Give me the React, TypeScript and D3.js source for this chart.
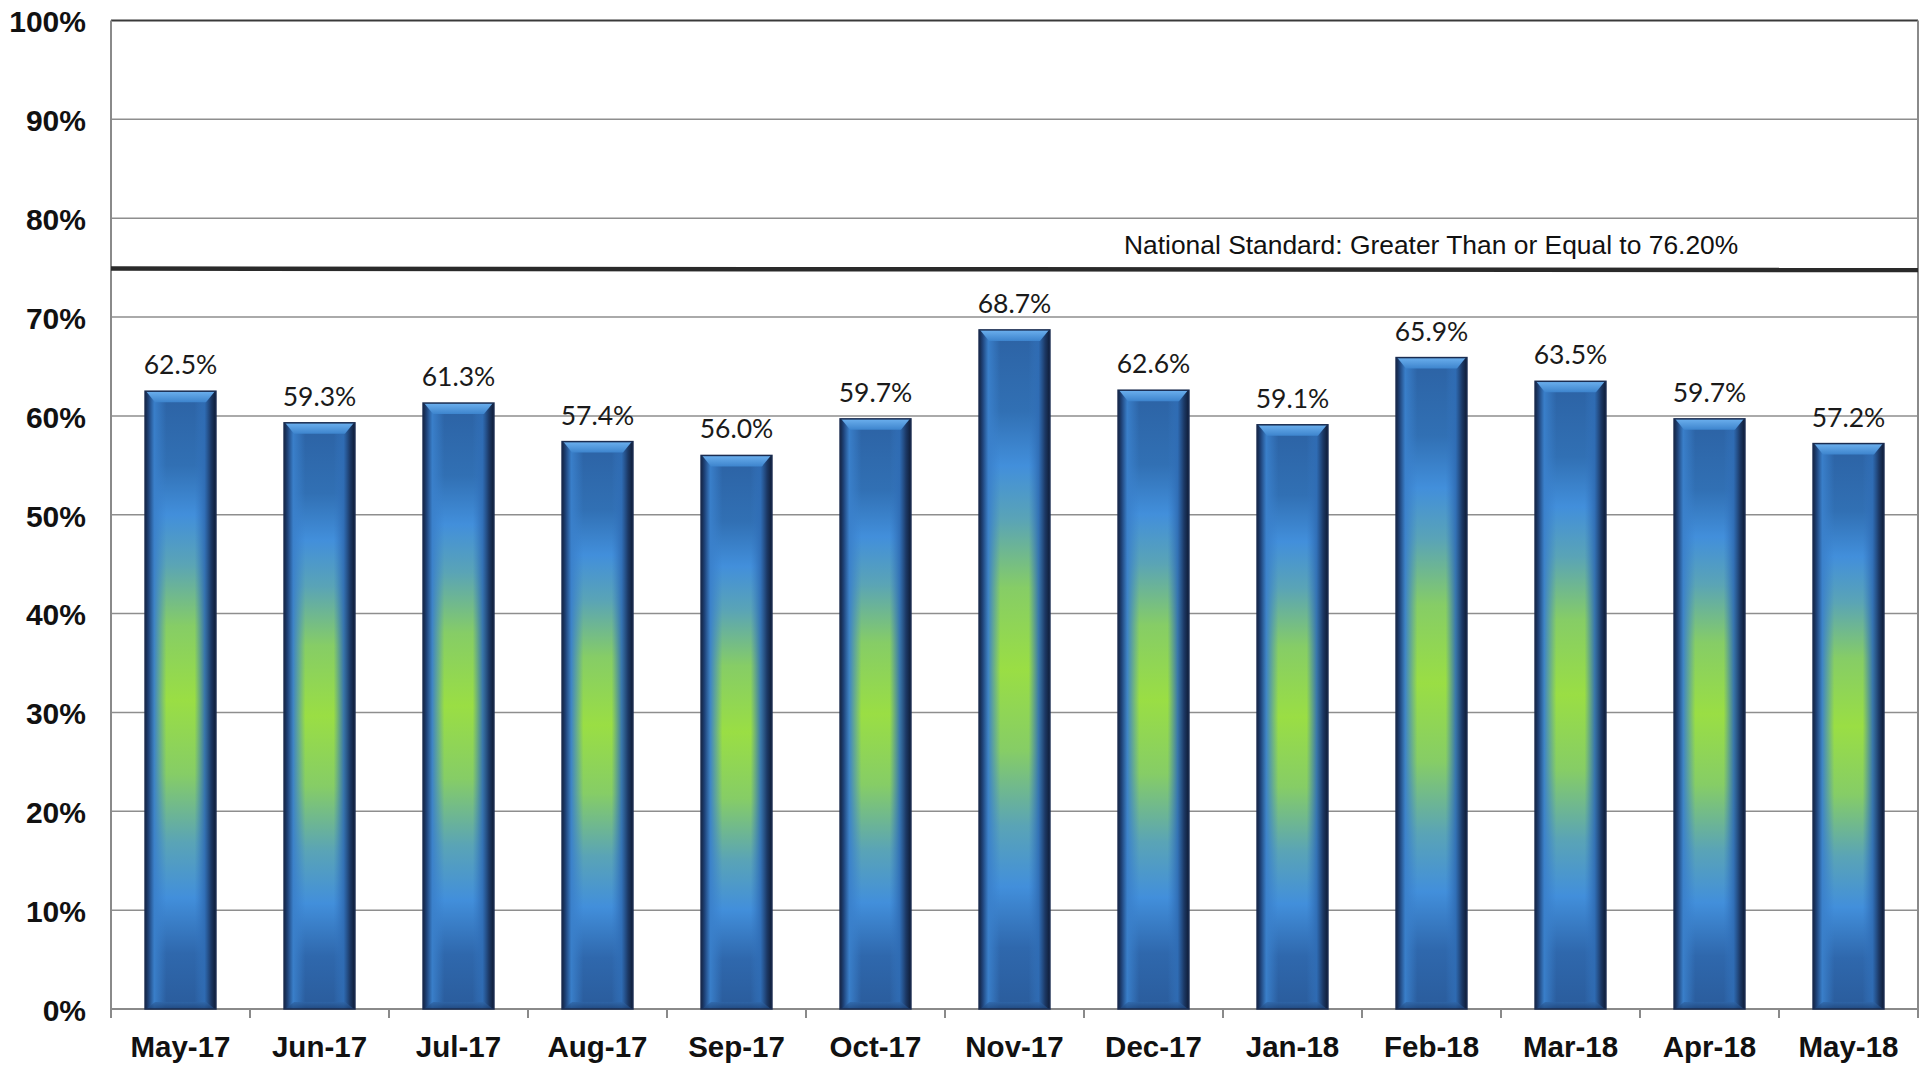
import React from "react";
import * as d3 from "d3";

const categories = ["May-17", "Jun-17", "Jul-17", "Aug-17", "Sep-17", "Oct-17", "Nov-17", "Dec-17", "Jan-18", "Feb-18", "Mar-18", "Apr-18", "May-18"];
const values = [62.5, 59.3, 61.3, 57.4, 56.0, 59.7, 68.7, 62.6, 59.1, 65.9, 63.5, 59.7, 57.2];
const yTicks = [0, 10, 20, 30, 40, 50, 60, 70, 80, 90, 100];
const standardValue = 74.9;
const standardLabel = "National Standard: Greater Than or Equal to 76.20%";

const W = 1929;
const H = 1066;
const L = 111;
const R = 1918;
const T = 20.5;
const B = 1009;

export default function App() {
  const x = d3.scaleBand<string>().domain(categories).range([L, R]).paddingInner(0.49).paddingOuter(0.245);
  const y = d3.scaleLinear().domain([0, 100]).range([B, T]);
  const bw = x.bandwidth();
  const step = x.step();
  const tickXs = d3.range(categories.length + 1).map((i) => L + i * step);

  return (
    <svg width={W} height={H} style={{ position: "fixed", left: 0, top: 0, background: "#fff" }}>
      <defs>
        <linearGradient id="barV" x1="0" y1="1" x2="0" y2="0">
          <stop offset="0" stopColor="#2a5c9c" />
          <stop offset="0.09" stopColor="#2f68ad" />
          <stop offset="0.18" stopColor="#428fdb" />
          <stop offset="0.27" stopColor="#5aa4b6" />
          <stop offset="0.38" stopColor="#86cd66" />
          <stop offset="0.5" stopColor="#9ade44" />
          <stop offset="0.62" stopColor="#86cd66" />
          <stop offset="0.72" stopColor="#5aa4b6" />
          <stop offset="0.8" stopColor="#428fdb" />
          <stop offset="0.88" stopColor="#3170b4" />
          <stop offset="1" stopColor="#2c62a4" />
        </linearGradient>
        <linearGradient id="barH" x1="0" y1="0" x2="1" y2="0">
          <stop offset="0" stopColor="#132443" stopOpacity="1" />
          <stop offset="0.05" stopColor="#1f4379" stopOpacity="1" />
          <stop offset="0.13" stopColor="#3a80cb" stopOpacity="0.95" />
          <stop offset="0.3" stopColor="#3a80cc" stopOpacity="0" />
          <stop offset="0.7" stopColor="#3576c0" stopOpacity="0" />
          <stop offset="0.84" stopColor="#2f6cb4" stopOpacity="0.9" />
          <stop offset="0.93" stopColor="#1c3966" stopOpacity="1" />
          <stop offset="1" stopColor="#0f1c36" stopOpacity="1" />
        </linearGradient>
        <linearGradient id="capG" x1="0" y1="0" x2="0" y2="1">
          <stop offset="0" stopColor="#6cb0ee" />
          <stop offset="1" stopColor="#3d84cd" />
        </linearGradient>
        <linearGradient id="botG" x1="0" y1="0" x2="0" y2="1">
          <stop offset="0" stopColor="#2f66a8" />
          <stop offset="1" stopColor="#1f4478" />
        </linearGradient>
      </defs>

      {/* gridlines */}
      {yTicks.filter((t) => t > 0 && t < 100).map((t) => (
        <line key={t} x1={L} x2={R} y1={y(t)} y2={y(t)} stroke="#8e8e8e" strokeWidth={1.5} />
      ))}
      {/* frame */}
      <line x1={L} x2={R} y1={y(100)} y2={y(100)} stroke="#3a3a3a" strokeWidth={2} />
      <line x1={L} x2={L} y1={T} y2={B} stroke="#8a8a8a" strokeWidth={2} />
      <line x1={R} x2={R} y1={T} y2={B} stroke="#8a8a8a" strokeWidth={2} />
      <line x1={L} x2={R} y1={B} y2={B} stroke="#8a8a8a" strokeWidth={2} />
      {tickXs.map((tx, i) => (
        <line key={i} x1={tx} x2={tx} y1={B} y2={B + 9} stroke="#8a8a8a" strokeWidth={2} />
      ))}

      {/* y labels */}
      {yTicks.map((t) => (
        <text key={t} x={86} y={y(t) + 1} dy="0.36em" textAnchor="end" fontFamily="'Liberation Sans', Arial, sans-serif" fontWeight="bold" fontSize={30} fill="#111">
          {t}%
        </text>
      ))}

      {/* standard line */}
      <line x1={L} x2={R} y1={y(standardValue)} y2={y(standardValue) + 1.5} stroke="#2a2a2a" strokeWidth={4.5} />
      <text x={1124} y={254} fontFamily="'Liberation Sans', Arial, sans-serif" fontSize={26.4} fill="#111">
        {standardLabel}
      </text>

      {/* bars */}
      {categories.map((c, i) => {
        const bx = x(c) as number;
        const top = y(values[i]);
        const h = B - top;
        const capH = 11;
        const inset = 10;
        return (
          <g key={c}>
            <rect x={bx} y={top} width={bw} height={h} fill="url(#barV)" />
            <rect x={bx} y={top} width={bw} height={h} fill="url(#barH)" />
            <polygon
              points={`${bx + 1},${top} ${bx + bw - 1},${top} ${bx + bw - inset},${top + capH} ${bx + inset},${top + capH}`}
              fill="url(#capG)"
            />
            <polygon
              points={`${bx + 1},${B} ${bx + bw - 1},${B} ${bx + bw - inset},${B - 7} ${bx + inset},${B - 7}`}
              fill="url(#botG)"
              opacity={0.75}
            />
            <rect x={bx} y={top} width={bw} height={h} fill="none" stroke="#1a2c50" strokeWidth={1.5} />
            <text x={bx + bw / 2} y={top - 17} textAnchor="middle" fontFamily="Lato, 'Open Sans', sans-serif" fontSize={26.5} fill="#1a1a1a">
              {values[i].toFixed(1)}%
            </text>
          </g>
        );
      })}

      {/* x labels */}
      {categories.map((c) => (
        <text key={c} x={(x(c) as number) + bw / 2} y={1057} textAnchor="middle" fontFamily="'Liberation Sans', Arial, sans-serif" fontWeight="bold" fontSize={29.5} fill="#111">
          {c}
        </text>
      ))}
    </svg>
  );
}
